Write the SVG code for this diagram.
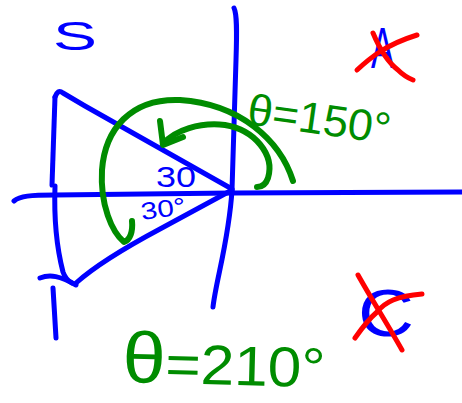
<svg xmlns="http://www.w3.org/2000/svg" width="462" height="403" viewBox="0 0 462 403">
<style>
.b{fill:none;stroke:#0000ff;stroke-width:5;stroke-linecap:round;stroke-linejoin:round}
.g{fill:none;stroke:#008c00;stroke-width:6;stroke-linecap:round;stroke-linejoin:round}
.r{fill:none;stroke:#ff0000;stroke-width:5;stroke-linecap:round;stroke-linejoin:round}
.tb{fill:#0000ff;font-family:"Liberation Sans",Arial,sans-serif}
.tg{fill:#008c00;font-family:"Liberation Sans",Arial,sans-serif}
</style>
<rect width="462" height="403" fill="#ffffff"/>
<g id="axes">
<path class="b" d="M14,201 C20,196 30,195 55,195 L232,193 L462,192"/>
<path class="b" d="M234,8 C237,14 237,30 236,60 L232,190 C229,240 216,280 213,307"/>
</g>
<g id="triangle">
<path class="b" d="M55,97 C57,92 59,90 63,93 L85,106 L232,189"/>
<path class="b" d="M55,97 C54,120 53,150 52,185"/>
<path class="b" d="M55,186 C54,215 56,245 63,272 C65,278 68,281 72,283"/>
<path class="b" d="M76,283 C95,266 130,245 160,229 S215,199 232,190"/>
<path class="b" d="M40,278 C50,274 60,276 76,285"/>
<path class="b" d="M53,288 C54,305 55,320 56,338"/>
</g>
<g id="arcs">
<path class="g" d="M293,181 C280,140 240,104 180,100 C130,98 105,130 102,170 C100,205 112,232 124,242 C130,240 133,232 132,221"/>
<path class="g" d="M163,144 C175,130 200,122 225,125 C255,130 275,155 268,178 C266,184 262,187 257,187"/>
<path class="g" d="M160,121 L163,145 L183,137"/>
</g>
<g id="labels">
<text class="tb" x="53" y="50" font-size="40" textLength="44" lengthAdjust="spacingAndGlyphs">S</text>
<text class="tb" x="371" y="68" font-size="58" textLength="23" lengthAdjust="spacingAndGlyphs">A</text>
<text class="tb" x="358" y="336" font-size="66" textLength="56" lengthAdjust="spacingAndGlyphs">C</text>
<text class="tb" x="156" y="187" font-size="30" textLength="40" lengthAdjust="spacingAndGlyphs">30</text>
<text class="tb" x="142" y="220" font-size="24" textLength="45" lengthAdjust="spacingAndGlyphs" transform="rotate(-8 142 220)">30°</text>
<text class="tg" x="246" y="124" font-size="44" textLength="144" lengthAdjust="spacingAndGlyphs" transform="rotate(8 246 124)">θ=150°</text>
<text class="tg" x="122" y="382" font-size="56" textLength="203" lengthAdjust="spacingAndGlyphs" transform="rotate(1.5 122 382)"><tspan font-size="72">θ</tspan>=210°</text>
</g>
<g id="crosses">
<path class="r" d="M357,70 C370,58 385,45 417,35"/>
<path class="r" d="M373,33 C378,45 385,60 398,70 C403,75 408,78 413,80"/>
<path class="r" d="M358,275 C372,300 388,325 402,350"/>
<path class="r" d="M355,338 C362,328 370,318 377,312 C385,302 397,296 422,294"/>
</g>
</svg>
